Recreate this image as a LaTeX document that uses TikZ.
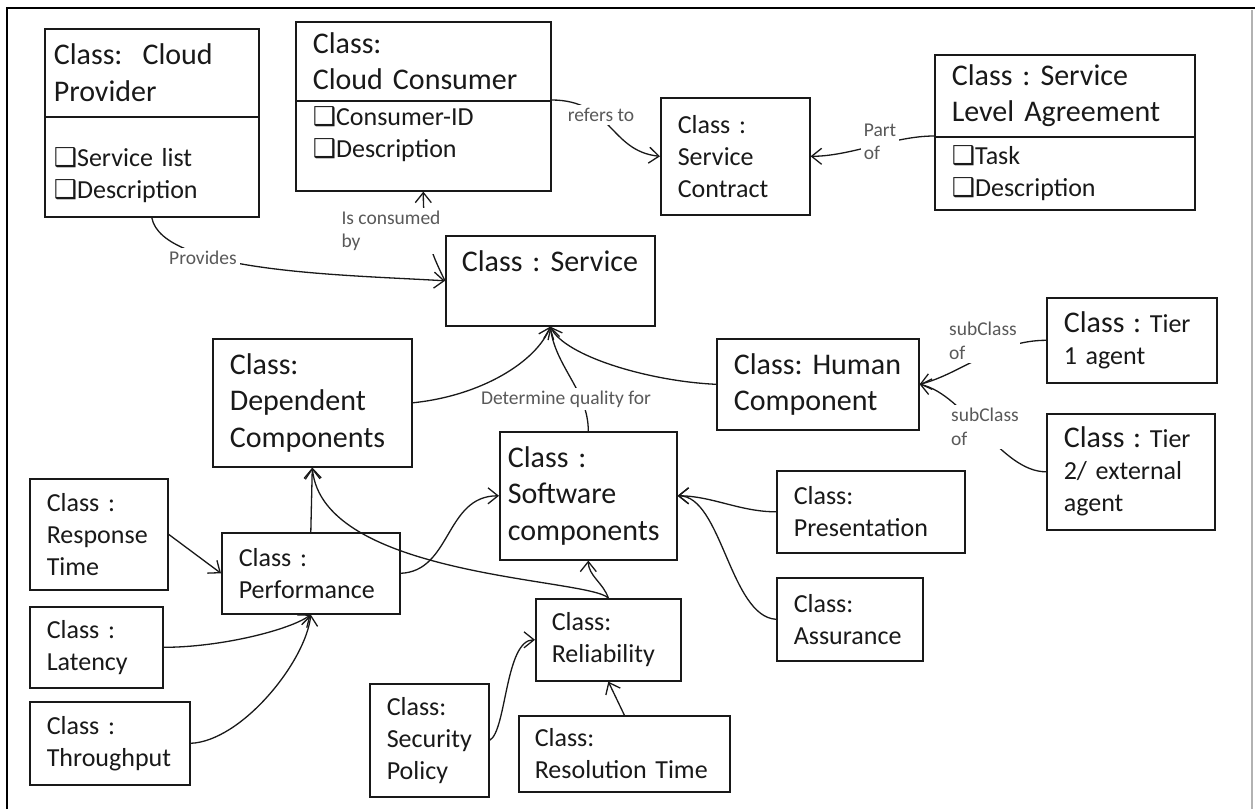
\documentclass[tikz,border=0pt]{standalone}
\usepackage{fontspec}
\setmainfont{Carlito}
\newfontfamily\symfont{DejaVu Sans}
\usetikzlibrary{arrows.meta}
\frenchspacing
\hyphenpenalty=10000
\exhyphenpenalty=10000

\newcommand{\chkbox}{{\symfont\char"2751}}
\newcommand{\bigcls}[1]{{\fontsize{30}{32}\selectfont #1}}

\tikzset{
  cls/.style={draw=black!90, line width=1.6pt, fill=white, anchor=north west, align=left, inner ysep=2pt, text=black!90},
  cbox/.code n args={3}{\pgfmathsetmacro\boxtw{#1-2*#3}\pgfkeysalso{minimum width=#1pt, minimum height=#2pt, inner xsep=#3pt, text width=\boxtw pt}},
  bigtxt/.style={font=\fontsize{30}{36.5}\selectfont},
  smalltxt/.style={font=\fontsize{26}{32}\selectfont},
  lbl/.style={fill=white, text=black!65, align=left, inner sep=3pt, font=\fontsize{19.5}{23.5}\selectfont},
  conn/.style={line width=1.3pt, draw=black!90, -{Straight Barb[length=10pt,width=16pt]}}
}

\begin{document}
\begin{tikzpicture}[x=1pt,y=-1pt]
\useasboundingbox (0,0) rectangle (1255,809);
\fill[white] (0,0) rectangle (1255,809);
\draw[line width=1.6pt] (7,809) -- (7,8) -- (1255,8);
\draw[black!30, line width=1.2pt] (1252,10) -- (1252,809);

% top row
\node[cls, bigtxt, cbox={214}{88}{9}] (provtop) at (44,28) {Class:~~Cloud\\Provider};
\node[cls, smalltxt, cbox={214}{100}{9}] (provbot) at (44,116) {\rule{0pt}{36pt}\chkbox Service~list\\\chkbox Description};
\node[cls, bigtxt, cbox={255}{79}{17}] (constop) at (295,21) {Class:\\Cloud~Consumer};
\node[cls, smalltxt, cbox={255}{90}{17}] (consbot) at (295,100) {\chkbox Consumer-ID\\\chkbox Description\rule[-28pt]{0pt}{0pt}};
\node[cls, smalltxt, cbox={149}{117}{17}] (contract) at (660,97) {Class~:\\Service\\Contract};
\node[cls, bigtxt, cbox={260}{82}{17}] (slatop) at (934,54) {Class~:~Service\\Level~Agreement};
\node[cls, smalltxt, cbox={260}{73}{17}] (slabot) at (934,136) {\chkbox Task\\\chkbox Description};

% middle
\node[cls, bigtxt, cbox={209}{90}{16}] (srv) at (445,235) {Class~:~Service\rule[-40pt]{0pt}{0pt}};
\node[cls, bigtxt, cbox={199}{128}{17}] (dep) at (212,338) {Class:\\Dependent\\Components};
\node[cls, bigtxt, cbox={177}{128}{8}] (soft) at (499,431) {Class~:\\Software\\components};
\node[cls, bigtxt, cbox={202}{91}{17}] (human) at (716,338) {Class:~Human\\Component};
\node[cls, smalltxt, cbox={170}{85}{17}] (tier1) at (1046,297) {\bigcls{Class~:}~Tier\\1~agent};
\node[cls, smalltxt, cbox={168}{116}{17}] (tier2) at (1046,413) {\bigcls{Class~:}~Tier\\2/~external\\agent};
\node[cls, smalltxt, cbox={188}{82}{17}] (pres) at (776,470) {Class:\\Presentation};
\node[cls, smalltxt, cbox={146}{83}{17}] (assu) at (776,577) {Class:\\Assurance};

% bottom
\node[cls, smalltxt, cbox={138}{111}{17}] (resp) at (29,478) {Class~:\\Response\\Time};
\node[cls, smalltxt, cbox={178}{81}{17}] (perf) at (221,532) {Class~:\\Performance};
\node[cls, smalltxt, cbox={133}{81}{17}] (lat) at (29,606) {Class~:\\Latency};
\node[cls, smalltxt, cbox={160}{83}{17}] (thru) at (29,701) {Class~:\\Throughput};
\node[cls, smalltxt, cbox={119}{113}{17}] (secp) at (369,683) {Class:\\Security\\Policy};
\node[cls, smalltxt, cbox={145}{82}{16}] (rel) at (535,598) {Class:\\Reliability};
\node[cls, smalltxt, cbox={211}{76}{16}] (resol) at (518,715) {Class:\\Resolution~Time};

% connectors
\draw[conn] (provbot.south) .. controls +(10,55) and +(-100,-6) .. (srv.west);
\draw[conn] (srv.west) .. controls +(-15,-30) and +(0,40) .. (consbot.south);
\draw[conn] (consbot.north east) .. controls +(60,0) and +(-50,-5) .. (contract.west);
\draw[conn] (slabot.north west) .. controls +(-40,0) and +(40,0) .. (contract.east);
\draw[conn] (human.west) .. controls +(-66,-3) and +(15,30) .. (srv.south);
\draw[conn] (dep.east) .. controls +(69,-7) and +(-14,35) .. (srv.south);
\draw[conn] (soft.north) .. controls +(0,-40) and +(5,40) .. (srv.south);
\draw[conn] (tier1.west) .. controls +(-50,0) and +(40,-10) .. (human.east);
\draw[conn] (tier2.west) .. controls +(-45,0) and +(45,10) .. (human.east);
\draw[conn] (resp.east) -- (perf.west);
\draw[conn] (lat.east) .. controls +(58,0) and +(-20,15) .. (perf.south);
\draw[conn] (thru.east) .. controls +(51,-2) and +(-5,47) .. (perf.south);
\draw[conn] (perf.north) -- (dep.south);
\draw[conn] (rel.north) .. controls +(-20,-20) and +(10,110) .. (dep.south);
\draw[conn] (rel.north) .. controls +(-5,-15) and +(0,15) .. (soft.south);
\draw[conn] (perf.east) .. controls +(51,-2) and +(-54,0) .. (soft.west);
\draw[conn] (pres.west) .. controls +(-36,0) and +(34,0) .. (soft.east);
\draw[conn] (assu.west) .. controls +(-46,-3) and +(44,0) .. (soft.east);
\draw[conn] (secp.east) .. controls +(17,-9) and +(-30,0) .. (rel.west);
\draw[conn] (resol.north) -- (rel.south);

% labels
\node[lbl] (lprov) at (203,258) {Provides};
\node[lbl] (lcons) at (391,231) {Is consumed\\by};
\node[lbl] (lrefer) at (601,115) {refers to};
\node[lbl] (lpart) at (880,142) {Part\\of};
\node[lbl] (lqual) at (566,399) {Determine quality for};
\node[lbl] (lsub1) at (983,341) {subClass\\of};
\node[lbl] (lsub2) at (985,427) {subClass\\of};
\end{tikzpicture}
\end{document}
